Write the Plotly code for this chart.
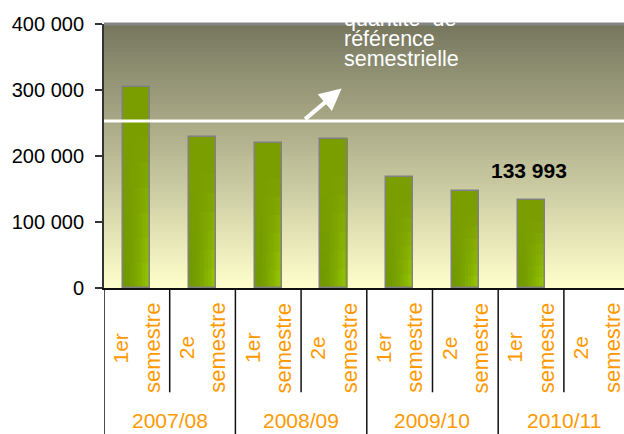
import plotly.graph_objects as go

# ---- data ----
years = ["2007/08", "2008/09", "2009/10", "2010/11"]
semesters = ["1er", "2e"]
categories = [f"{y} {s}" for y in years for s in semesters]
values = [304500, 229400, 220300, 226400, 168800, 147600, 133993, None]
reference_value = 253000
highlight_label = "133 993"
y_tick_values = [0, 100000, 200000, 300000, 400000]
y_tick_labels = ["0", "100 000", "200 000", "300 000", "400 000"]
note_lines = ["quantité  de", "référence", "semestrielle"]

FONT = "Liberation Sans, Arial, sans-serif"
ORANGE = "#ff9900"
BAR_W = 0.41

fig = go.Figure()

# bar shading: horizontal profile at the bottom, blending to a flat olive at the top
profile = [(0.0, (0x70, 0x98, 0x00)), (0.3, (0x74, 0x9e, 0x00)),
           (0.7, (0x88, 0xb6, 0x00)), (1.0, (0x9c, 0xcc, 0x00))]
flat = (0x7a, 0x9e, 0x00)

def prof(t):
    for (t0, c0), (t1, c1) in zip(profile[:-1], profile[1:]):
        if t0 <= t <= t1:
            f = (t - t0) / (t1 - t0)
            return tuple(a + (b - a) * f for a, b in zip(c0, c1))
    return profile[-1][1]

n_h = 10
n_v = 8
sw = BAR_W / n_h
for j in range(n_v):
    f0, f1 = j / n_v, (j + 1) / n_v
    w = min(1.0, ((f0 + f1) / 2) / 0.75)
    seg_base = [None if v is None else v * f0 for v in values]
    seg_len = [None if v is None else v * (f1 - f0) * 1.01 for v in values]
    for k in range(n_h):
        pc = prof((k + 0.5) / n_h)
        col = tuple(round(p * (1 - w) + q * w) for p, q in zip(pc, flat))
        fig.add_trace(go.Bar(
            x=categories, y=seg_len, base=seg_base,
            width=sw * 1.06, offset=-BAR_W / 2 + k * sw,
            marker=dict(color="rgb(%d,%d,%d)" % col, line=dict(width=0)),
            hoverinfo="skip", showlegend=False))
# outline
fig.add_trace(go.Bar(
    x=categories, y=values, width=BAR_W, offset=-BAR_W / 2,
    marker=dict(color="rgba(0,0,0,0)", line=dict(color="#808080", width=1.5)),
    showlegend=False))

shapes = []
# background gradient
N = 66
top = (118, 118, 94)
bot = (255, 255, 204)
for k in range(N):
    f = (k + 0.5) / N
    c = tuple(round(b + (t - b) * f) for t, b in zip(top, bot))
    shapes.append(dict(type="rect", xref="paper", yref="paper", x0=0, x1=1,
                       y0=k / N, y1=(k + 1) / N + 0.002, layer="below",
                       line=dict(width=0), fillcolor="rgb(%d,%d,%d)" % c))
# top border
shapes.append(dict(type="line", xref="paper", yref="paper", x0=0, x1=1, y0=1, y1=1,
                   line=dict(color="#858585", width=3)))
# reference line
shapes.append(dict(type="line", xref="paper", yref="y", x0=0, x1=1,
                   y0=reference_value, y1=reference_value,
                   line=dict(color="white", width=3)))
# category dividers below axis
for i in range(len(categories) + 1):
    xb = i - 0.5
    y1 = -0.56 if i % 2 == 0 else -0.395
    shapes.append(dict(type="line", xref="x", yref="paper", x0=xb, x1=xb, y0=0, y1=y1,
                       line=dict(color="#111111", width=1.5)))

annotations = []
for i, c in enumerate(categories):
    s = semesters[i % 2]
    annotations.append(dict(x=c, y=-0.228, xref="x", yref="paper", text=s,
                            textangle=-90, showarrow=False, xshift=-16.5,
                            xanchor="center", yanchor="middle",
                            font=dict(family=FONT, size=21, color=ORANGE)))
    annotations.append(dict(x=c, y=-0.228, xref="x", yref="paper", text="semestre",
                            textangle=-90, showarrow=False, xshift=15,
                            xanchor="center", yanchor="middle",
                            font=dict(family=FONT, size=22, color=ORANGE)))
for j, yname in enumerate(years):
    annotations.append(dict(x=2 * j + 0.5, y=-0.503, xref="x", yref="paper", text=yname,
                            showarrow=False, xanchor="center", yanchor="middle",
                            font=dict(family=FONT, size=21, color=ORANGE)))
# value label
annotations.append(dict(x=categories[6], y=values[6], xref="x", yref="y",
                        text="<b>%s</b>" % highlight_label, showarrow=False,
                        yanchor="bottom", yshift=16, xshift=-2,
                        font=dict(family=FONT, size=21, color="black")))
# note text
for k, line in enumerate(note_lines):
    annotations.append(dict(x=0.457, y=1.02 - k * 0.0757, xref="paper", yref="paper",
                            text=line, showarrow=False, xanchor="left", yanchor="middle",
                            font=dict(family=FONT, size=21.5, color="white")))
# arrow
annotations.append(dict(x=0.457, y=0.756, xref="paper", yref="paper", text="",
                        showarrow=True, arrowhead=2, arrowsize=1.1, arrowwidth=4,
                        arrowcolor="white", ax=-38, ay=32))

fig.update_layout(
    width=624, height=434,
    margin=dict(l=104, r=0, t=24, b=146),
    paper_bgcolor="white", plot_bgcolor="rgb(255,255,204)",
    barmode="overlay", bargap=0,
    shapes=shapes, annotations=annotations,
    showlegend=False,
    font=dict(family=FONT, size=21, color="black"),
    xaxis=dict(type="category", range=[-0.5, 7.415], showticklabels=False,
               showgrid=False, zeroline=False, showline=True, linecolor="#111111",
               linewidth=2, ticks="", fixedrange=True),
    yaxis=dict(range=[0, 400000], tickvals=y_tick_values, ticktext=y_tick_labels,
               showgrid=False, zeroline=False, showline=True, linecolor="#333333",
               linewidth=2, ticks="outside", ticklen=7, tickwidth=2, tickcolor="#333333",
               ticklabelstandoff=7,
               tickfont=dict(family=FONT, size=20, color="black"), fixedrange=True),
)

fig.write_html(
    "out.html",
    config={"displayModeBar": False},
    post_script="document.body.style.margin='0';document.body.style.padding='0';"
                "document.body.style.overflow='hidden';",
)
